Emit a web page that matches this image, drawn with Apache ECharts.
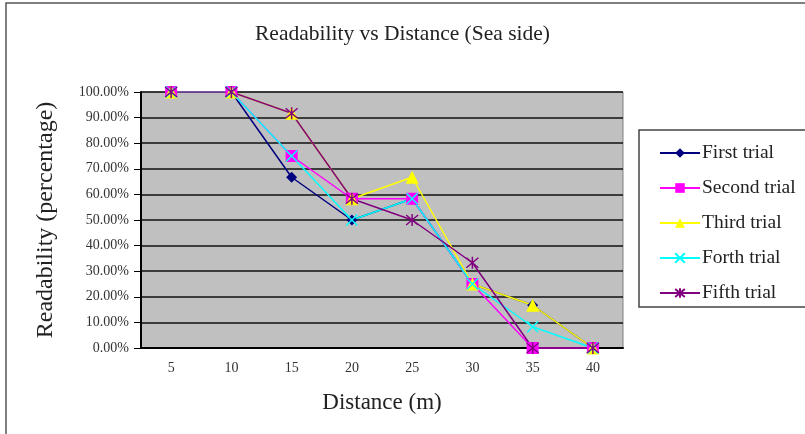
<!DOCTYPE html>
<html>
<head>
<meta charset="utf-8">
<script src="https://cdn.jsdelivr.net/npm/echarts@6/dist/echarts.min.js"></script>
<style>
  html, body { margin: 0; padding: 0; background: #fff; }
  #chart { width: 805px; height: 434px; }
</style>
</head>
<body>
<div id="chart"></div>
<script>
// Distance in metres
const distances = ['5', '10', '15', '20', '25', '30', '35', '40'];

// Readability per trial (fraction)
const firstTrial  = [1, 1, 0.667, 0.5, 0.583, 0.25, 0.167, 0];
const secondTrial = [1, 1, 0.75, 0.583, 0.583, 0.25, 0, 0];
const thirdTrial  = [1, 1, 0.917, 0.583, 0.667, 0.25, 0.167, 0];
const forthTrial  = [1, 1, 0.75, 0.5, 0.583, 0.25, 0.083, 0];
const fifthTrial  = [1, 1, 0.917, 0.583, 0.5, 0.333, 0, 0];

const serif = '"Liberation Serif", "DejaVu Serif", serif';

function trial(name, data, color, symbol, size, stroked) {
  return {
    name: name,
    type: 'line',
    data: data,
    symbol: symbol,
    symbolSize: size,
    showAllSymbol: true,
    color: color,
    lineStyle: { color: color, width: 1.5 },
    itemStyle: stroked
      ? { color: color, borderColor: color, borderWidth: 1.5 }
      : { color: color, borderWidth: 0 },
    emphasis: { disabled: true },
    animation: false
  };
}

const chart = echarts.init(document.getElementById('chart'));
chart.setOption({
  backgroundColor: '#fff',
  animation: false,
  title: {
    text: 'Readability vs Distance (Sea side)',
    left: 'center',
    top: 18,
    textStyle: { fontFamily: serif, fontSize: 21.5, fontWeight: 'normal', color: '#222' }
  },
  graphic: [
    { type: 'rect', shape: { x: 6, y: 3, width: 830, height: 460 },
      style: { fill: 'none', stroke: '#555', lineWidth: 1.5 }, silent: true },
    { type: 'rect', shape: { x: 639, y: 130, width: 200, height: 177 },
      style: { fill: '#fff', stroke: '#444', lineWidth: 1.5 }, silent: true, z: 1 }
  ],
  legend: {
    orient: 'vertical',
    left: 654,
    top: 138,
    itemWidth: 40,
    itemHeight: 12,
    itemGap: 15,
    z: 5,
    textStyle: { fontFamily: serif, fontSize: 19.5, color: '#222', padding: [0, 0, 0, -3] },
    data: ['First trial', 'Second trial', 'Third trial', 'Forth trial', 'Fifth trial']
  },
  grid: {
    left: 141, right: 182, top: 92, bottom: 86,
    show: true,
    backgroundColor: '#c0c0c0',
    borderColor: '#808080',
    borderWidth: 1
  },
  xAxis: {
    type: 'category',
    data: distances,
    boundaryGap: true,
    name: 'Distance (m)',
    nameLocation: 'middle',
    nameGap: 43,
    nameTextStyle: { fontFamily: serif, fontSize: 23, color: '#222' },
    axisLine: { lineStyle: { color: '#000', width: 2 } },
    axisTick: { alignWithLabel: true, length: 4, inside: true, lineStyle: { color: '#000' } },
    axisLabel: { fontFamily: serif, fontSize: 14, color: '#333', margin: 13 },
    splitLine: { show: false }
  },
  yAxis: {
    type: 'value',
    min: 0,
    max: 1,
    interval: 0.1,
    name: 'Readability (percentage)',
    nameLocation: 'middle',
    nameGap: 83,
    nameTextStyle: { fontFamily: serif, fontSize: 24, color: '#222' },
    axisLine: { show: true, lineStyle: { color: '#000', width: 2 } },
    axisTick: { show: true, length: 7, lineStyle: { color: '#000' } },
    axisLabel: {
      fontFamily: serif, fontSize: 14, color: '#333', margin: 12,
      formatter: v => (v * 100).toFixed(2) + '%'
    },
    splitLine: { show: true, lineStyle: { color: '#111', width: 1.5 } }
  },
  series: [
    trial('First trial', firstTrial, '#000080', 'diamond', 11, false),
    trial('Second trial', secondTrial, '#ff00ff', 'rect', 12, false),
    trial('Third trial', thirdTrial, '#ffff00', 'triangle', 13, false),
    trial('Forth trial', forthTrial, '#00ffff', 'path://M0,0L10,10M10,0L0,10', 11, true),
    trial('Fifth trial', fifthTrial, '#800080', 'path://M0,0L10,10M10,0L0,10M5,-1L5,11', 12, true)
  ]
});
</script>
</body>
</html>
